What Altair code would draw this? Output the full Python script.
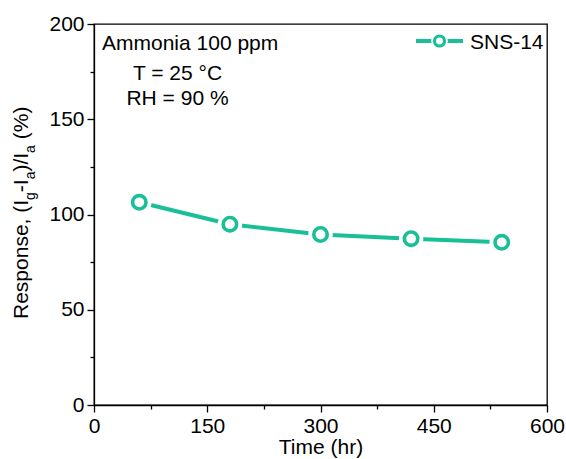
import altair as alt
import pandas as pd

# ---- data ----
time_hr = [60, 180, 300, 420, 540]
response = [106.4, 94.9, 89.5, 87.3, 85.4]
series_name = "SNS-14"

x_major = [0, 150, 300, 450, 600]
x_minor = [75, 225, 375, 525]
y_major = [0, 50, 100, 150, 200]
y_minor = [25, 75, 125, 175]

annot_lines = ["Ammonia 100 ppm", "T = 25 \u00b0C", "RH = 90 %"]

COLOR = "#18BF97"
FONT = "Liberation Sans"
W, H = 453, 381

df = pd.DataFrame({"time": time_hr, "resp": response})

xs = alt.Scale(domain=[0, 600], nice=False, zero=False)
ys = alt.Scale(domain=[0, 200], nice=False, zero=False)

base = alt.Chart(df)

x_ax = alt.Axis(values=x_major, tickSize=7, labelPadding=3, title="Time (hr)",
                titleFontSize=21, titleFont=FONT, titleFontWeight="normal",
                titlePadding=0, titleColor="black", orient="bottom", labelFlush=False)
y_ax = alt.Axis(values=y_major, tickSize=7, labelPadding=3, title=None, orient="left",
                labelFlush=False)

line = base.mark_line(color=COLOR, strokeWidth=4).encode(
    x=alt.X("time:Q", scale=xs, axis=x_ax),
    y=alt.Y("resp:Q", scale=ys, axis=y_ax),
)
gap = base.mark_point(filled=True, fill="white", stroke=None, size=600, opacity=1, shape="circle").encode(
    x=alt.X("time:Q", scale=xs, axis=None), y=alt.Y("resp:Q", scale=ys, axis=None))
pts = base.mark_point(filled=True, fill="white", stroke=COLOR, strokeWidth=3.6, size=180,
                      opacity=1, shape="circle").encode(
    x=alt.X("time:Q", scale=xs, axis=None), y=alt.Y("resp:Q", scale=ys, axis=None))

minor = base.mark_point(opacity=0).encode(
    x=alt.X("time:Q", scale=xs, axis=alt.Axis(values=x_minor, tickSize=4, labels=False,
                                              domain=False, title=None, orient="bottom")),
    y=alt.Y("resp:Q", scale=ys, axis=alt.Axis(values=y_minor, tickSize=4, labels=False,
                                              domain=False, title=None, orient="left")),
)

one = alt.Data(values=[{}])

def txt(s, x, y, size=21, align="left", angle=0, baseline="alphabetic"):
    return alt.Chart(one).mark_text(text=s, font=FONT, fontSize=size, color="black",
                                    align=align, baseline=baseline, angle=angle).encode(
        x=alt.value(x), y=alt.value(y))

# annotations
ann = [txt(annot_lines[0], 8, 26), txt(annot_lines[1], 83.5, 56, align="center"),
       txt(annot_lines[2], 83.5, 81, align="center")]

# legend (manual)
leg_line = alt.Chart(one).mark_rule(color=COLOR, strokeWidth=4).encode(
    x=alt.value(322), x2=alt.value(369), y=alt.value(17))
leg_gap = alt.Chart(one).mark_point(filled=True, fill="white", stroke=None, size=280, opacity=1,
                                    shape="circle").encode(x=alt.value(345.5), y=alt.value(17))
leg_pt = alt.Chart(one).mark_point(filled=True, fill="white", stroke=COLOR, strokeWidth=3.2,
                                   size=100, opacity=1, shape="circle").encode(
    x=alt.value(345.5), y=alt.value(17))
leg_txt = txt(series_name, 376, 24.5)

# y-axis title with subscripts
WID = {"R": .722, "e": .556, "s": .5, "p": .556, "o": .556, "n": .556, ",": .278, " ": .278,
       "(": .333, ")": .333, "I": .278, "g": .556, "a": .556, "-": .333, "/": .278, "%": .889}
pieces = [("Response, (I", False), ("g", True), ("-I", False), ("a", True),
          (")/I", False), ("a", True), (" (%)", False)]
ytitle = []
ypos = 295.0
for s, sub in pieces:
    size = 14 if sub else 21
    lead = len(s) - len(s.lstrip(" "))
    ypos -= lead * WID[" "] * size
    s2 = s.lstrip(" ")
    ytitle.append(txt(s2, -59 if sub else -66, ypos, size=size, angle=270))
    ypos -= sum(WID[c] for c in s2) * size

chart = alt.layer(line, gap, pts, minor, *ann, leg_line, leg_gap, leg_pt, leg_txt, *ytitle).resolve_axis(
    x="independent", y="independent"
).properties(
    width=W, height=H,
    autosize=alt.AutoSizeParams(type="none"),
    padding={"left": 94, "top": 24, "right": 19, "bottom": 54},
).configure_view(stroke="black", strokeWidth=1.3).configure_axis(
    grid=False, domainColor="black", domainWidth=1.3, tickColor="black", tickWidth=1.3,
    labelColor="black", labelFont=FONT, labelFontSize=21,
)

chart.save("out.html", embed_options={"renderer": "svg", "actions": False})
